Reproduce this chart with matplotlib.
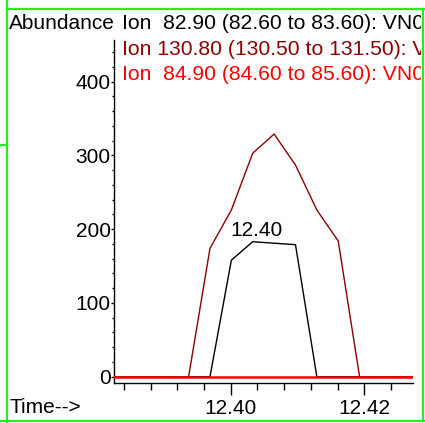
import matplotlib
matplotlib.use("Agg")
import matplotlib.pyplot as plt
from matplotlib.lines import Line2D
from matplotlib.ticker import MultipleLocator
from matplotlib.transforms import Bbox

plt.rcParams['font.family'] = ['Liberation Sans', 'DejaVu Sans']

# ---- data ----
times = [12.3809, 12.3841, 12.3873, 12.3905, 12.3937, 12.3969, 12.4001, 12.4033,
         12.4065, 12.4097, 12.4129, 12.4161, 12.4193, 12.4225, 12.4257, 12.4289]
ion_82_90 = [0, 0, 0, 0, 0, 0, 158, 183, 181, 179, 0, 0, 0, 0, 0, 0]
ion_130_80 = [0, 0, 0, 0, 0, 174, 226, 303, 329, 287, 226, 184, 0, 0, 0, 0]
ion_84_90 = [0, 0, 0, 0, 0, 0, 0, 0, 0, 0, 0, 0, 0, 0, 0, 0]
labels = ["Ion  82.90 (82.60 to 83.60): VN0",
          "Ion 130.80 (130.50 to 131.50): V",
          "Ion  84.90 (84.60 to 85.60): VN0"]
peak_label = "12.40"
peak_pos = (12.4039, 191)
xticks = [12.40, 12.42]
yticks = [0, 100, 200, 300, 400]

W, H = 425, 423
fig = plt.figure(figsize=(W / 100, H / 100), dpi=100)

def fx(px):
    return px / W

def fy(py):
    return 1 - py / H

ax = fig.add_axes([fx(114), fy(383), fx(412.7) - fx(114), fy(40) - fy(383)])

c_black = '#000000'
c_dark = '#8b0000'
c_red = '#ff0000'

ax.plot(times, ion_82_90, color=c_black, lw=1.0, zorder=3)
ax.plot(times, ion_130_80, color=c_dark, lw=1.0, zorder=3)
ax.plot(times, ion_84_90, color=c_red, lw=1.8, zorder=4, solid_capstyle='butt')

ax.text(peak_pos[0], peak_pos[1], peak_label, ha='center', va='baseline',
        fontsize=15, color='black')

ax.set_xlim(12.38253, 12.42725)
ax.set_ylim(-8.54, 456.5)

ax.spines['top'].set_visible(False)
ax.spines['right'].set_visible(False)
ax.spines['left'].set_linewidth(1.0)
ax.spines['bottom'].set_linewidth(1.0)

ax.set_xticks(xticks)
ax.set_xticklabels([f"{t:.2f}" for t in xticks])
ax.xaxis.set_minor_locator(MultipleLocator(0.004))
ax.set_yticks(yticks)
ax.yaxis.set_minor_locator(MultipleLocator(20))

ax.tick_params(axis='x', which='major', direction='out', length=8.5, width=1.0,
               pad=3.0, labelsize=15)
ax.tick_params(axis='x', which='minor', direction='out', length=5, width=1.0)
ax.tick_params(axis='y', which='major', direction='out', length=2.2, width=1.0,
               pad=0.3, labelsize=15)
ax.tick_params(axis='y', which='minor', direction='out', length=1.5, width=1.0)

# header texts (clipped at the frame like the reference)
clip = Bbox.from_extents(0, 0, 421, H)
fig.text(fx(9), fy(29.3), "Abundance", fontsize=15, va='baseline', ha='left')
t1 = fig.text(fx(122), fy(29.3), labels[0], fontsize=15.2, color=c_black,
              va='baseline', ha='left')
t2 = fig.text(fx(122), fy(55), labels[1], fontsize=15.2, color=c_dark,
              va='baseline', ha='left')
t3 = fig.text(fx(122), fy(80), labels[2], fontsize=15.2, color=c_red,
              va='baseline', ha='left')
for t in (t1, t2, t3):
    t.set_clip_box(clip)
    t.set_clip_on(True)

fig.text(fx(9), fy(413), "Time-->", fontsize=15, va='baseline', ha='left')

# green frame
g = '#22ee22'
frame = [
    ([7, 7], [0, H]),
    ([7, W], [9.5, 9.5]),
    ([422.5, 422.5], [9.5, 421]),
    ([0, W], [420.5, 420.5]),
    ([0, 7], [145, 145]),
]
for xs, ys in frame:
    fig.add_artist(Line2D([fx(x) for x in xs], [fy(y) for y in ys],
                          transform=fig.transFigure, color=g, lw=1.6))

fig.savefig("out.png", dpi=100)
